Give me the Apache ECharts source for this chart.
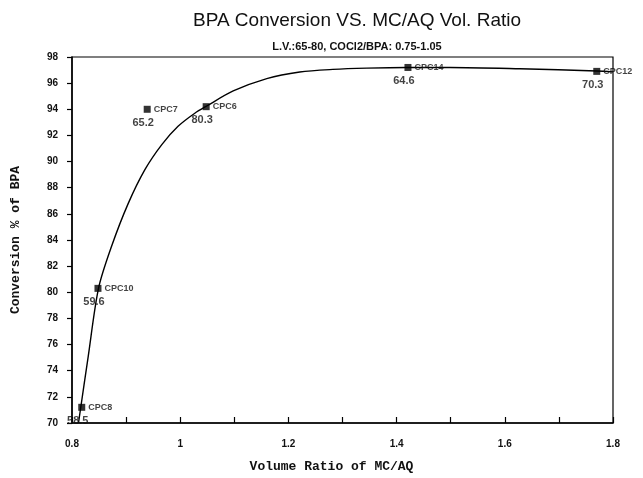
<!DOCTYPE html>
<html>
<head>
<meta charset="utf-8">
<script src="https://cdn.jsdelivr.net/npm/echarts@6/dist/echarts.min.js"></script>
<style>
  html, body { margin: 0; padding: 0; background: #fff; }
  #chart { width: 643px; height: 478px; }
</style>
</head>
<body>
<div id="chart"></div>
<script>
  // runs (points)
  const runNames = ['CPC8', 'CPC10', 'CPC7', 'CPC6', 'CPC14', 'CPC12'];
  const ratio = [0.818, 0.848, 0.939, 1.048, 1.421, 1.770];
  const conversion = [71.2, 80.3, 94.0, 94.2, 97.2, 96.9];
  const pointNotes = ['58.5', '59.6', '65.2', '80.3', '64.6', '70.3'];

  // hand-drawn fit curve
  const curveX = [0.812, 0.830, 0.849, 0.873, 0.904, 0.935, 0.966, 0.996, 1.027, 1.049, 1.098,
                  1.160, 1.221, 1.282, 1.345, 1.419, 1.499, 1.628, 1.770, 1.800];
  const curveY = [70.0, 75.1, 80.3, 83.5, 86.8, 89.4, 91.3, 92.7, 93.7, 94.25, 95.4,
                  96.35, 96.85, 97.05, 97.15, 97.2, 97.2, 97.1, 96.93, 96.86];

  const chart = echarts.init(document.getElementById('chart'));

  const pts = ratio.map((x, i) => ({ name: runNames[i], value: [x, conversion[i]] }));
  const notes = ratio.map((x, i) => ({ name: pointNotes[i], value: [x, conversion[i]] }));

  chart.setOption({
    animation: false,
    title: [
      {
        text: 'BPA Conversion VS. MC/AQ Vol. Ratio',
        left: 352, top: 6, textAlign: 'center',
        textStyle: { fontFamily: 'Liberation Sans', fontSize: 19, fontWeight: 'normal', color: '#111' }
      },
      {
        text: 'L.V.:65-80, COCl2/BPA: 0.75-1.05',
        left: 352, top: 36, textAlign: 'center',
        textStyle: { fontFamily: 'Liberation Sans', fontSize: 11, fontWeight: 'bold', color: '#111' }
      }
    ],
    grid: {
      left: 72, right: 30, top: 57, bottom: 55,
      show: true, borderColor: '#000', borderWidth: 1.2
    },
    xAxis: {
      type: 'value',
      min: 0.8, max: 1.8, interval: 0.2,
      name: 'Volume Ratio of MC/AQ',
      nameLocation: 'middle', nameGap: 37,
      nameTextStyle: { fontFamily: 'Liberation Mono', fontSize: 13, fontWeight: 'bold', color: '#111', padding: [0, 22, 0, 0] },
      axisLine: { lineStyle: { color: '#000', width: 1.5 } },
      axisTick: { inside: true, length: 6, lineStyle: { color: '#000', width: 1.2 } },
      minorTick: { show: true, splitNumber: 2, length: 6, lineStyle: { color: '#000', width: 1.2 } },
      axisLabel: { margin: 16, fontFamily: 'Liberation Sans', fontSize: 10, fontWeight: 'bold', color: '#111' },
      splitLine: { show: false }
    },
    yAxis: {
      type: 'value',
      min: 70, max: 98, interval: 2,
      name: 'Conversion % of BPA',
      nameLocation: 'middle', nameGap: 50,
      nameTextStyle: { fontFamily: 'Liberation Mono', fontSize: 13, fontWeight: 'bold', color: '#111' },
      axisLine: { lineStyle: { color: '#000', width: 1.5 } },
      axisTick: { length: 5, lineStyle: { color: '#000', width: 1.2 } },
      axisLabel: { margin: 14, fontFamily: 'Liberation Sans', fontSize: 10, fontWeight: 'bold', color: '#111' },
      splitLine: { show: false }
    },
    series: [
      {
        type: 'line',
        data: curveX.map((x, i) => [x, curveY[i]]),
        smooth: 0.3,
        showSymbol: false,
        lineStyle: { color: '#000', width: 1.4 },
        silent: true,
        z: 2
      },
      {
        type: 'scatter',
        data: pts,
        symbol: 'rect',
        symbolSize: 7,
        itemStyle: { color: '#000' },
        label: {
          show: true, position: 'right', distance: 3,
          formatter: p => p.name,
          fontFamily: 'Liberation Sans', fontSize: 9, fontWeight: 'bold', color: '#111'
        },
        z: 3
      },
      {
        type: 'scatter',
        data: notes,
        symbolSize: 0,
        label: {
          show: true, position: 'bottom', distance: 8, offset: [-4, 0],
          formatter: p => p.name,
          fontFamily: 'Liberation Sans', fontSize: 11, fontWeight: 'bold', color: '#111'
        },
        z: 3
      }
    ]
  });
</script>
</body>
</html>
